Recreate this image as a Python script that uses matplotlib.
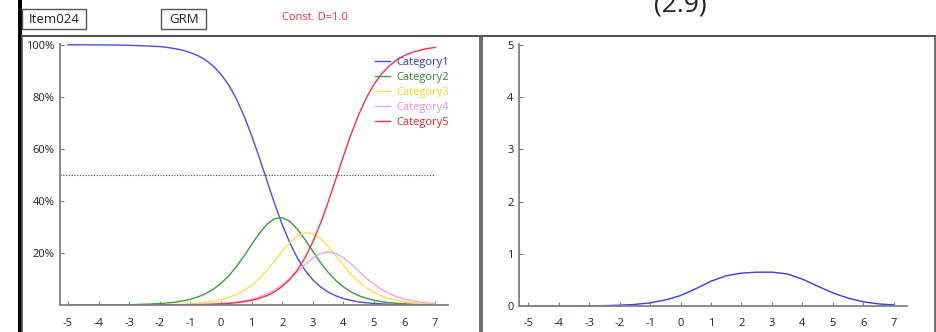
import matplotlib
matplotlib.use("Agg")
import matplotlib.pyplot as plt
from matplotlib.patches import Rectangle
from matplotlib.lines import Line2D

plt.rcParams['font.family'] = ['Open Sans', 'DejaVu Sans']

# ---- data ----
theta = [-5, -4.5, -4, -3.5, -3, -2.5, -2, -1.75, -1.5, -1.25, -1, -0.75, -0.5, -0.25,
         0, 0.25, 0.5, 0.75, 1, 1.25, 1.5, 1.75, 2, 2.25, 2.5, 2.75, 3, 3.25, 3.5, 3.75,
         4, 4.25, 4.5, 4.75, 5, 5.25, 5.5, 5.75, 6, 6.25, 6.5, 6.75, 7]

cat1 = [100.0, 99.98, 99.96, 99.91, 99.8, 99.6, 99.3, 98.97, 98.5, 97.91, 97.0, 95.82, 94.1, 91.81,
        88.7, 84.58, 79.3, 72.85, 65.2, 56.76, 47.9, 39.1, 31.0, 23.9, 18.0, 13.32, 9.7, 6.99, 5.0, 3.55,
        2.5, 1.77, 1.2, 0.87, 0.6, 0.43, 0.3, 0.21, 0.15, 0.1, 0.07, 0.05, 0.04]
cat2 = [0.01, 0.02, 0.03, 0.07, 0.13, 0.27, 0.55, 0.78, 1.1, 1.57, 2.2, 3.12, 4.4, 6.04,
        8.3, 11.12, 14.7, 18.74, 23.2, 27.44, 31.0, 33.17, 33.6, 32.15, 29.1, 25.1, 20.7, 16.39, 12.6, 9.44,
        7.0, 5.03, 3.6, 2.58, 1.8, 1.29, 0.9, 0.64, 0.45, 0.32, 0.22, 0.15, 0.1]
cat3 = [0.0, 0.0, 0.01, 0.01, 0.03, 0.06, 0.12, 0.18, 0.25, 0.36, 0.51, 0.72, 1.0, 1.46,
        2.1, 2.89, 4.0, 5.57, 7.6, 10.16, 13.3, 16.84, 20.6, 23.96, 26.6, 27.77, 27.4, 25.55, 22.5, 18.92,
        15.2, 11.85, 9.0, 6.63, 4.8, 3.48, 2.5, 1.76, 1.24, 0.88, 0.62, 0.44, 0.31]
cat4 = [0.0, 0.0, 0.0, 0.0, 0.01, 0.02, 0.03, 0.05, 0.07, 0.1, 0.14, 0.19, 0.28, 0.39,
        0.55, 0.79, 1.1, 1.58, 2.2, 3.1, 4.3, 5.83, 7.8, 10.17, 12.8, 15.6, 18.0, 19.79, 20.4, 19.88,
        18.2, 15.79, 13.1, 10.36, 8.0, 5.97, 4.4, 3.18, 2.3, 1.62, 1.15, 0.81, 0.57]
cat5 = [0.0, 0.0, 0.0, 0.0, 0.01, 0.01, 0.03, 0.04, 0.05, 0.07, 0.1, 0.15, 0.2, 0.3,
        0.44, 0.62, 0.88, 1.26, 1.8, 2.54, 3.6, 5.06, 7.1, 9.82, 13.5, 18.21, 24.2, 31.28, 39.4, 48.21,
        57.1, 65.56, 73.1, 79.56, 84.8, 88.83, 91.9, 94.21, 95.9, 97.08, 97.9, 98.55, 99.0]

theta_info = [-5, -4.5, -4, -3.5, -3, -2.5, -2, -1.5, -1, -0.5, 0, 0.5, 1,
              1.5, 2, 2.5, 3, 3.5, 4, 4.5, 5, 5.5, 6, 6.5, 7]
info = [0.0002, 0.0004, 0.0008, 0.0018, 0.0036, 0.0073, 0.015, 0.03, 0.06, 0.115, 0.2, 0.33, 0.475,
        0.58, 0.63, 0.648, 0.648, 0.615, 0.515, 0.38, 0.25, 0.15, 0.08, 0.04, 0.02]

labels = ['Category1', 'Category2', 'Category3', 'Category4', 'Category5']
line_colors = ['#4b4bf2', '#3f9a3f', '#ffdf50', '#f5a6d8', '#f2343f']
text_colors = ['#3333e6', '#2f8a2f', '#ffd21a', '#f08ccc', '#e8222e']

x_ticks = [-5, -4, -3, -2, -1, 0, 1, 2, 3, 4, 5, 6, 7]
y_ticks_left = [20, 40, 60, 80, 100]
y_ticks_right = [0, 1, 2, 3, 4, 5]

W, H = 937, 332
fig = plt.figure(figsize=(W / 100, H / 100), dpi=100)


def fx(px):
    return px / W


def fy(py):
    return 1 - py / H


# window edge + panel borders
fig.patches.append(Rectangle((fx(18), 0), fx(4), 1, transform=fig.transFigure,
                             facecolor='black', edgecolor='none'))
for x0, x1 in [(22.5, 480), (481.5, 935)]:
    fig.add_artist(Line2D([fx(x0), fx(x0)], [0, fy(36)], color='#555555', lw=1.2))
    fig.add_artist(Line2D([fx(x1), fx(x1)], [0, fy(36)], color='#555555', lw=1.2))
    fig.add_artist(Line2D([fx(x0), fx(x1)], [fy(36), fy(36)], color='#555555', lw=1.5))

# header boxes
for x0, x1, txt in [(22.5, 86.5, 'Item024'), (161.5, 206.5, 'GRM')]:
    fig.patches.append(Rectangle((fx(x0), fy(29)), fx(x1 - x0), 20 / H, transform=fig.transFigure,
                                 facecolor='white', edgecolor='#555555', lw=1))
    fig.text(fx((x0 + x1) / 2), fy(19.5), txt, ha='center', va='center', fontsize=9.5, color='#222222')
fig.text(fx(282), fy(17.5), 'Const. D=1.0', ha='left', va='center', fontsize=8, color='#f03040')
fig.text(fx(680), fy(11), '(2.9)', ha='center', va='baseline', fontsize=19, color='#222222')


def style_axes(ax):
    for s in ['top', 'right']:
        ax.spines[s].set_visible(False)
    for s in ['left', 'bottom']:
        ax.spines[s].set_color('#808080')
        ax.spines[s].set_linewidth(1.3)
    ax.tick_params(direction='in', length=3, width=0.8, color='#808080',
                   labelsize=8, labelcolor='#222222')
    ax.tick_params(axis='x', pad=9)
    ax.tick_params(axis='y', pad=4)
    ax.set_xticks(x_ticks)
    ax.set_xticklabels([str(t) for t in x_ticks])


# left: category response curves
ax1 = fig.add_axes([fx(60), 27 / H, 388 / W, 261 / H])
series = [cat1, cat2, cat3, cat4, cat5]
for vals, lab, col in zip(series, labels, line_colors):
    ax1.plot(theta, vals, color=col, lw=1.0, label=lab)
ax1.plot([-5.26, 7], [50, 50], color='#444444', lw=0.8, ls=(0, (1, 1.5)))
ax1.set_xlim(-5.26, 7.42)
ax1.set_ylim(0, 100.3)
ax1.set_yticks(y_ticks_left)
ax1.set_yticklabels([f'{t}%' for t in y_ticks_left])
style_axes(ax1)

leg = ax1.legend(loc='upper left', bbox_to_anchor=(fx(375), fy(57)), bbox_transform=fig.transFigure,
                 frameon=False, fontsize=8, handlelength=1.35, handletextpad=0.6,
                 labelspacing=0.36, borderpad=0, borderaxespad=0)
for t, c in zip(leg.get_texts(), text_colors):
    t.set_color(c)

# right: information curve
ax2 = fig.add_axes([fx(519), 26 / H, 388 / W, 262 / H])
ax2.plot(theta_info, info, color='#3b3bee', lw=1.0)
ax2.set_xlim(-5.3, 7.43)
ax2.set_ylim(0, 5.02)
ax2.set_yticks(y_ticks_right)
ax2.set_yticklabels([str(t) for t in y_ticks_right])
style_axes(ax2)

fig.savefig('out.png', dpi=100)
